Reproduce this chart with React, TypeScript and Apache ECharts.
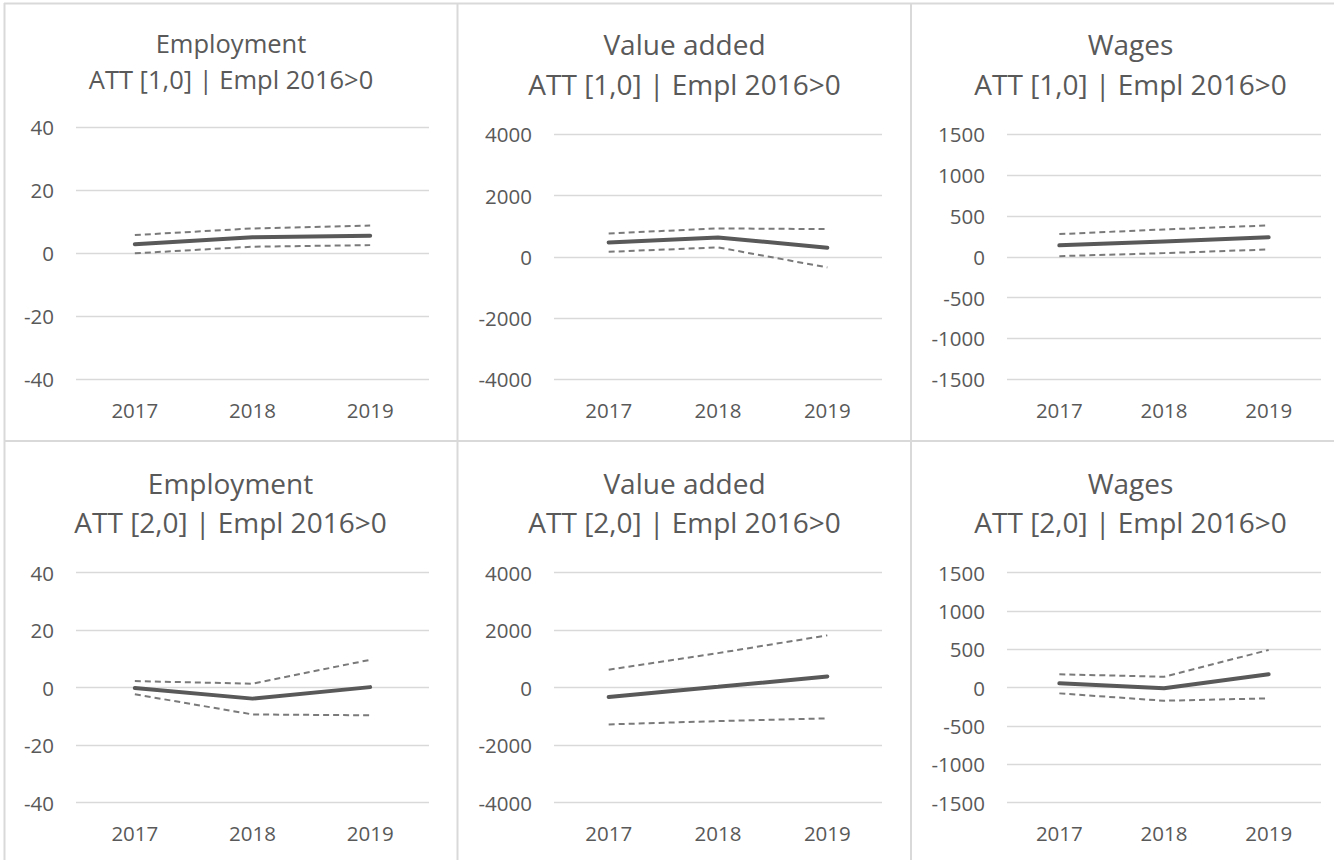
import React, { useEffect, useRef } from "react";
import * as echarts from "echarts";

const years = ["2017", "2018", "2019"];

// Row 1: ATT [1,0]
const emp1Att = [2.8, 5.0, 5.5];
const emp1Up = [5.7, 7.8, 8.7];
const emp1Lo = [-0.1, 2.0, 2.5];

const va1Att = [470, 633, 294];
const va1Up = [763, 927, 904];
const va1Lo = [163, 307, -346];

const wg1Att = [140, 188, 238];
const wg1Up = [278, 335, 384];
const wg1Lo = [8, 45, 90];

// Row 2: ATT [2,0]
const emp2Att = [-0.1, -3.8, 0.2];
const emp2Up = [2.3, 1.4, 9.7];
const emp2Lo = [-2.3, -9.3, -9.6];

const va2Att = [-327, 30, 393];
const va2Up = [626, 1203, 1820];
const va2Lo = [-1277, -1162, -1068];

const wg2Att = [57, -8, 175];
const wg2Up = [175, 143, 492];
const wg2Lo = [-74, -170, -139];

const titles1 = ["Employment", "Value added", "Wages"];
const titles2 = ["ATT [1,0] | Empl 2016>0", "ATT [2,0] | Empl 2016>0"];

const TEXT = "#595959";
const GRIDC = "#d9d9d9";
const FONT = "'Open Sans', sans-serif";

export default function App() {
  const ref = useRef<HTMLDivElement>(null);
  useEffect(() => {
    if (!ref.current) return;
    const chart = echarts.init(ref.current, undefined, { renderer: "svg" });

    const panels = [
      { grid: { left: 76, top: 127, width: 353, height: 252 }, min: -40, max: 40, interval: 20, data: [emp1Att, emp1Up, emp1Lo] },
      { grid: { left: 554, top: 134.3, width: 328, height: 245 }, min: -4000, max: 4000, interval: 2000, data: [va1Att, va1Up, va1Lo] },
      { grid: { left: 1007, top: 134.3, width: 314, height: 245 }, min: -1500, max: 1500, interval: 500, data: [wg1Att, wg1Up, wg1Lo] },
      { grid: { left: 76, top: 572.7, width: 353, height: 230 }, min: -40, max: 40, interval: 20, data: [emp2Att, emp2Up, emp2Lo] },
      { grid: { left: 554, top: 572.7, width: 328, height: 230 }, min: -4000, max: 4000, interval: 2000, data: [va2Att, va2Up, va2Lo] },
      { grid: { left: 1007, top: 572.7, width: 314, height: 230 }, min: -1500, max: 1500, interval: 500, data: [wg2Att, wg2Up, wg2Lo] },
    ];

    const titlePos = [
      { x: 231, y1: 42.5, y2: 78.5, fs: 25.5 },
      { x: 684.5, y1: 44, y2: 84, fs: 28 },
      { x: 1130.5, y1: 44, y2: 84, fs: 28 },
      { x: 230.5, y1: 483, y2: 521.7, fs: 28 },
      { x: 684.5, y1: 483, y2: 521.7, fs: 28 },
      { x: 1130.5, y1: 483, y2: 521.7, fs: 28 },
    ];

    const grids: any[] = [];
    const xAxes: any[] = [];
    const yAxes: any[] = [];
    const series: any[] = [];
    const graphics: any[] = [];

    panels.forEach((p, i) => {
      grids.push({ ...p.grid, containLabel: false });
      xAxes.push({
        type: "category",
        gridIndex: i,
        data: years,
        boundaryGap: true,
        axisLine: { show: false },
        axisTick: { show: false },
        axisLabel: { color: TEXT, fontSize: 20.5, fontFamily: FONT, margin: 20 },
      });
      yAxes.push({
        type: "value",
        gridIndex: i,
        min: p.min,
        max: p.max,
        interval: p.interval,
        axisLine: { show: false },
        axisTick: { show: false },
        axisLabel: {
          color: TEXT,
          fontSize: 20.5,
          fontFamily: FONT,
          margin: 22,
          formatter: (v: number) => String(v),
        },
        splitLine: { lineStyle: { color: GRIDC, width: 1.3 } },
      });
      const [att, up, lo] = p.data;
      series.push({
        type: "line",
        xAxisIndex: i,
        yAxisIndex: i,
        data: up,
        symbol: "none",
        lineStyle: { color: "#7a7a7a", width: 2, type: [6, 4] },
      });
      series.push({
        type: "line",
        xAxisIndex: i,
        yAxisIndex: i,
        data: lo,
        symbol: "none",
        lineStyle: { color: "#7a7a7a", width: 2, type: [6, 4] },
      });
      series.push({
        type: "line",
        xAxisIndex: i,
        yAxisIndex: i,
        data: att,
        symbol: "none",
        lineStyle: { color: "#595959", width: 4, cap: "round" },
      });
      const t = titlePos[i];
      graphics.push({
        type: "text",
        x: t.x,
        y: t.y1,
        style: { text: titles1[i % 3], fontSize: t.fs, fontFamily: FONT, fill: TEXT, textAlign: "center", textVerticalAlign: "middle" },
      });
      graphics.push({
        type: "text",
        x: t.x,
        y: t.y2,
        style: { text: titles2[i < 3 ? 0 : 1], fontSize: t.fs, fontFamily: FONT, fill: TEXT, textAlign: "center", textVerticalAlign: "middle" },
      });
    });

    const border = { stroke: GRIDC, lineWidth: 2 };
    graphics.push(
      { type: "line", shape: { x1: 4, y1: 3.5, x2: 1334, y2: 3.5 }, style: border },
      { type: "line", shape: { x1: 4, y1: 441, x2: 1334, y2: 441 }, style: border },
      { type: "line", shape: { x1: 4.5, y1: 3, x2: 4.5, y2: 860 }, style: border },
      { type: "line", shape: { x1: 457.5, y1: 3, x2: 457.5, y2: 860 }, style: border },
      { type: "line", shape: { x1: 911, y1: 3, x2: 911, y2: 860 }, style: border }
    );

    chart.setOption({
      animation: false,
      backgroundColor: "#ffffff",
      grid: grids,
      xAxis: xAxes,
      yAxis: yAxes,
      series,
      graphic: graphics,
    });
    return () => chart.dispose();
  }, []);

  return (
    <div
      ref={ref}
      style={{ position: "fixed", left: 0, top: 0, width: 1334, height: 860, background: "#fff" }}
    />
  );
}
